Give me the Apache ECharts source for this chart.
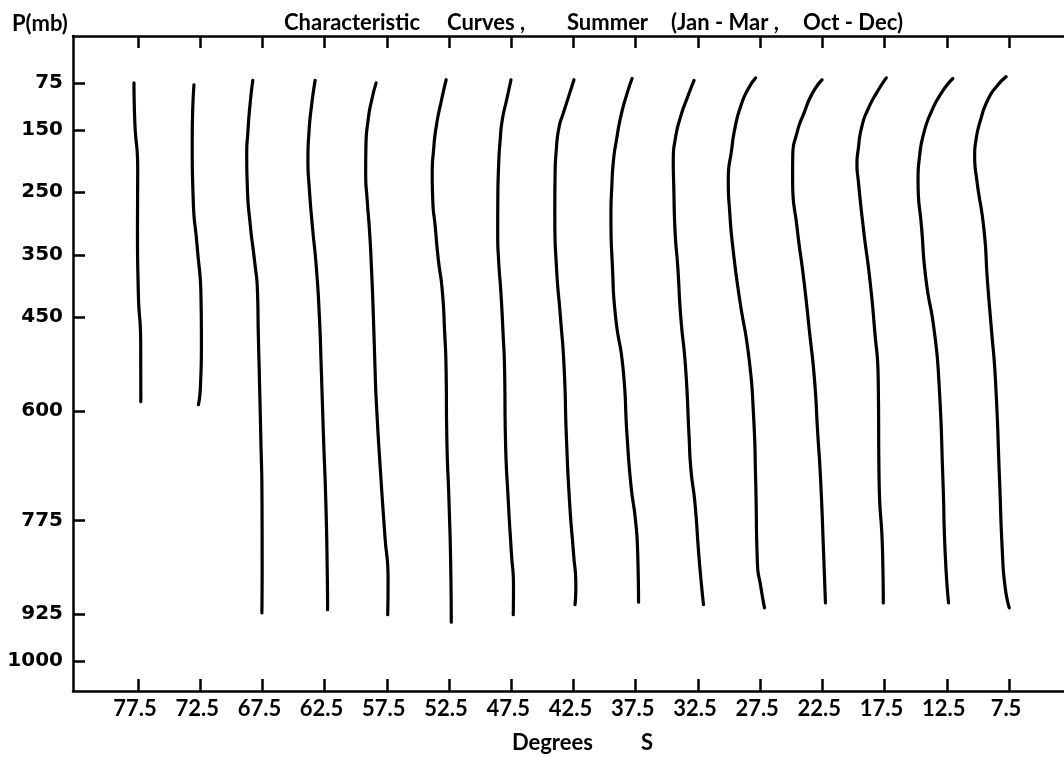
<!DOCTYPE html>
<html lang="en">

<head>
    <meta charset="UTF-8">
    <script src="https://cdn.jsdelivr.net/npm/echarts@6/dist/echarts.min.js"></script>
    <title>Characteristic Curves</title>
    <style>
        html, body { margin: 0; padding: 0; background: #fff; }
        #main { width: 1064px; height: 757px; }
    </style>
</head>

<body>
    <div id="main"></div>
    <script>
        // tick labels
        var latTicks = [77.5, 72.5, 67.5, 62.5, 57.5, 52.5, 47.5, 42.5, 37.5, 32.5, 27.5, 22.5, 17.5, 12.5, 7.5];
        var pressureTicks = [75, 150, 250, 350, 450, 600, 775, 925, 1000];

        // each curve: [degrees S, pressure mb] top to bottom
        var curve77_5 = [[77.82, 75], [77.76, 134], [77.52, 214], [77.54, 305], [77.47, 411], [77.28, 491], [77.27, 585]];
        var curve72_5 = [[73.0, 78], [73.14, 171], [73.06, 262], [72.74, 337], [72.43, 422], [72.4, 491], [72.48, 561], [72.64, 590]];
        var curve67_5 = [[68.27, 71], [68.51, 113], [68.67, 155], [68.76, 187], [68.71, 241], [68.46, 305], [68.14, 358], [67.89, 411],
            [67.83, 475], [67.76, 531], [67.63, 641], [67.53, 747], [67.52, 854], [67.54, 923]];
        var curve62_5 = [[63.26, 71], [63.56, 113], [63.76, 155], [63.84, 198], [63.74, 241], [63.48, 305], [63.17, 369], [62.92, 449],
            [62.77, 531], [62.59, 641], [62.40, 747], [62.29, 854], [62.26, 918]];
        var curve57_5 = [[58.36, 75], [58.71, 102], [59.0, 134], [59.18, 177], [59.2, 219], [59.08, 262], [58.88, 315], [58.74, 369],
            [58.58, 449], [58.45, 531], [58.34, 587], [58.02, 694], [57.65, 801], [57.4, 870], [57.43, 926]];
        var curve52_5 = [[52.73, 70], [53.1, 102], [53.53, 145], [53.74, 182], [53.85, 219], [53.81, 262], [53.61, 305], [53.36, 358],
            [53.05, 406], [52.85, 475], [52.74, 531], [52.68, 641], [52.5, 747], [52.36, 854], [52.32, 938]];
        var curve47_5 = [[47.52, 70], [47.87, 102], [48.22, 134], [48.39, 166], [48.52, 209], [48.58, 262], [48.59, 315], [48.52, 358],
            [48.33, 411], [48.16, 475], [48.04, 531], [47.97, 641], [47.73, 747], [47.49, 827], [47.32, 882], [47.34, 926]];
        var curve42_5 = [[42.46, 70], [42.89, 97], [43.31, 123], [43.65, 145], [43.88, 182], [43.98, 225], [44.0, 289], [43.87, 369],
            [43.55, 449], [43.25, 531], [43.07, 641], [42.81, 747], [42.5, 827], [42.31, 882], [42.38, 910]];
        var curve37_5 = [[37.79, 68], [38.27, 97], [38.7, 129], [39.04, 166], [39.28, 198], [39.42, 241], [39.49, 289], [39.37, 369],
            [39.12, 449], [38.52, 531], [38.19, 641], [37.87, 721], [37.52, 774], [37.34, 827], [37.27, 906]];
        var curve32_5 = [[32.81, 71], [33.32, 97], [33.89, 129], [34.33, 166], [34.48, 198], [34.44, 241], [34.33, 315], [34.12, 369],
            [33.88, 449], [33.49, 531], [33.21, 641], [33.06, 694], [32.74, 747], [32.44, 827], [32.23, 875], [32.05, 910]];
        var curve27_5 = [[27.86, 67], [28.5, 86], [29.07, 113], [29.5, 145], [29.79, 182], [30.06, 230], [29.94, 283], [29.7, 337],
            [29.18, 417], [28.41, 513], [28.04, 603], [27.86, 710], [27.72, 843], [27.44, 882], [27.15, 915]];
        var curve22_5 = [[22.52, 70], [23.28, 91], [23.97, 123], [24.54, 155], [24.88, 192], [24.89, 230], [24.51, 310], [23.99, 390],
            [23.55, 470], [23.13, 550], [22.89, 630], [22.64, 710], [22.4, 827], [22.25, 907]];
        var curve17_5 = [[17.36, 67], [18.14, 91], [18.85, 118], [19.33, 145], [19.62, 182], [19.72, 205], [19.62, 230], [19.19, 310],
            [18.68, 390], [18.3, 470], [18.01, 550], [17.94, 710], [17.66, 827], [17.6, 907]];
        var curve12_5 = [[12.01, 68], [12.93, 91], [13.78, 123], [14.34, 155], [14.69, 193], [14.81, 230], [14.51, 310], [14.17, 390],
            [13.52, 470], [13.14, 550], [12.81, 710], [12.63, 827], [12.36, 907]];
        var curve7_5 = [[7.73, 65], [8.51, 81], [9.2, 102], [9.78, 134], [10.15, 166], [10.26, 190], [10.09, 230], [9.51, 310],
            [9.24, 390], [8.91, 470], [8.59, 550], [8.26, 710], [8.03, 827], [7.81, 882], [7.48, 915]];

        var curves = [curve77_5, curve72_5, curve67_5, curve62_5, curve57_5, curve52_5, curve47_5, curve42_5,
            curve37_5, curve32_5, curve27_5, curve22_5, curve17_5, curve12_5, curve7_5];

        var font = 'Lato';
        var digitFont = 'DejaVu Sans';
        var ink = '#000';

        var myChart = echarts.init(document.getElementById('main'));

        var series = curves.map(function (c, i) {
            return {
                name: 'c' + latTicks[i],
                type: 'line',
                data: c,
                smooth: 0.6,
                symbol: 'none',
                silent: true,
                lineStyle: { color: ink, width: 3.2, cap: 'round' }
            };
        });

        var titleStyle = { fontFamily: font, fontSize: 22, fontWeight: 'bold', color: ink };

        // title pieces placed like the hand lettering
        var option = {
            animation: false,
            backgroundColor: '#fff',
            title: [
                { text: 'Characteristic', left: 284, top: 12, padding: 0, textStyle: titleStyle },
                { text: 'Curves ,', left: 447, top: 12, padding: 0, textStyle: titleStyle },
                { text: 'Summer', left: 567, top: 12, padding: 0, textStyle: titleStyle },
                { text: '(Jan - Mar ,', left: 671, top: 12, padding: 0, textStyle: titleStyle },
                { text: 'Oct - Dec)', left: 803, top: 12, padding: 0, textStyle: titleStyle },
                { text: 'P(mb)', left: 12, top: 13, padding: 0, textStyle: titleStyle }
            ],
            grid: { left: 73, right: 0, top: 36, bottom: 66, outerBoundsMode: 'none' },
            xAxis: [{
                type: 'value',
                position: 'bottom',
                inverse: true,
                min: 3.08,
                max: 82.72,
                name: 'Degrees         S',
                nameLocation: 'middle',
                nameGap: 41,
                nameTextStyle: { fontFamily: font, fontSize: 22, fontWeight: 'bold', color: ink, padding: [0, 0, 0, 28] },
                axisLine: { show: true, onZero: false, lineStyle: { color: ink, width: 2.5 } },
                axisTick: { show: true, inside: true, length: 12, lineStyle: { color: ink, width: 2.5 }, customValues: latTicks },
                axisLabel: {
                    show: true, margin: 7, customValues: latTicks,
                    fontFamily: font, fontSize: 22, fontWeight: 'bold', color: ink,
                    padding: [0, 6, 0, 0],
                    formatter: function (v) { return v.toFixed(1); }
                },
                splitLine: { show: false }
            }, {
                type: 'value',
                position: 'top',
                inverse: true,
                min: 3.08,
                max: 82.72,
                axisLine: { show: true, onZero: false, lineStyle: { color: ink, width: 2.5 } },
                axisTick: { show: true, inside: true, length: 12, lineStyle: { color: ink, width: 2.5 }, customValues: latTicks },
                axisLabel: { show: false },
                splitLine: { show: false }
            }],
            yAxis: {
                type: 'value',
                inverse: true,
                min: 0,
                max: 1048,
                axisLine: { show: true, onZero: false, lineStyle: { color: ink, width: 2.5 } },
                axisTick: { show: true, inside: true, length: 12, lineStyle: { color: ink, width: 2.5 }, customValues: pressureTicks },
                axisLabel: {
                    show: true, margin: 10, customValues: pressureTicks,
                    fontFamily: digitFont, fontSize: 20, fontWeight: 'bold', color: ink,
                    formatter: function (v) { return String(v); }
                },
                splitLine: { show: false }
            },
            series: series
        };

        myChart.setOption(option);
    </script>
</body>

</html>
